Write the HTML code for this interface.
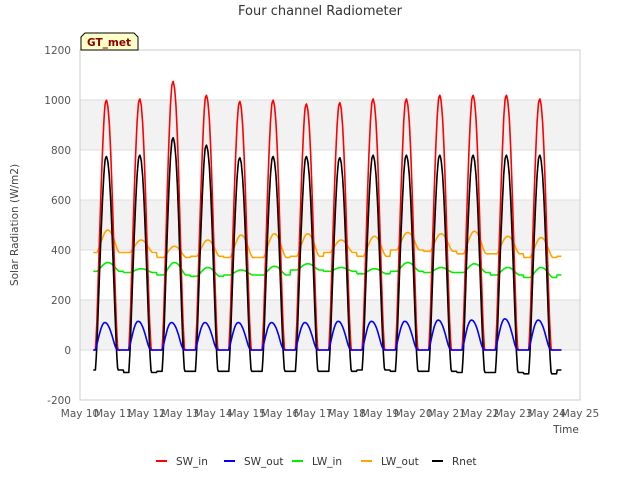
<!DOCTYPE html>
<html><head><meta charset="utf-8"><style>
body{margin:0;background:#fff;}
svg{display:block;font-family:"DejaVu Sans","Liberation Sans",sans-serif;}
</style></head><body>
<svg id="chart" width="640" height="480" viewBox="0 0 640 480">
<rect x="0" y="0" width="640" height="480" fill="#fff"/>
<g id="bands"></g>
<g id="grid"></g>
<rect x="80" y="50" width="500" height="350" fill="none" stroke="#ccc"/>
<g id="series" clip-path="url(#clip)"></g>
<defs><clipPath id="clip"><rect x="80" y="40" width="500" height="362"/></clipPath></defs>
<g id="axes"></g>
<text x="320" y="15" text-anchor="middle" font-size="13" fill="#333">Four channel Radiometer</text>
<text x="18" y="225" text-anchor="middle" font-size="10.5" fill="#444" transform="rotate(-90 18 225)">Solar Radiation (W/m2)</text>
<text x="566" y="433" text-anchor="middle" font-size="10.5" fill="#444">Time</text>
<g>
<path d="M81,50 L81,37 L85,33 L134,33 L138,37 L138,50 Z" fill="#ffffc8" stroke="#000" stroke-width="1"/>
<text x="109" y="46" text-anchor="middle" font-size="10.5" font-weight="bold" fill="#8b0000">GT_met</text>
</g>
<g id="legend"></g>
</svg>
<script>
const yTicks=[-200,0,200,400,600,800,1000,1200];
const xTickLabels=["May 10","May 11","May 12","May 13","May 14","May 15","May 16","May 17","May 18","May 19","May 20","May 21","May 22","May 23","May 24","May 25"];
const days=[10,11,12,13,14,15,16,17,18,19,20,21,22,23,24];
const swInPeak=[1000,1005,1075,1020,995,1000,985,990,1005,1005,1020,1020,1020,1005,0];
const swOutPeak=[110,115,110,110,110,110,110,115,115,115,120,120,125,120,0];
const rnetPeak=[775,780,850,820,770,775,775,770,780,780,780,780,780,780,0];
const rnetNight=[-80,-90,-85,-85,-85,-85,-85,-85,-80,-85,-85,-90,-90,-95,-80];
const lwInDay=[350,325,350,330,320,335,345,330,325,350,330,345,330,330,300];
const lwInNight=[315,310,300,295,300,300,320,315,305,315,310,310,300,290,300];
const lwOutPeak=[480,440,415,440,460,465,465,440,455,470,465,475,455,450,380];
const lwOutNight=[390,390,370,375,370,370,375,390,375,400,395,385,385,370,375];
const dayProfile=[0,0.12,0.3,0.48,0.65,0.8,0.92,0.99,1,0.97,0.9,0.78,0.62,0.44,0.26,0.1,0];
const swOutProfile=[0,0.2,0.42,0.62,0.8,0.92,0.99,1,0.97,0.9,0.8,0.66,0.5,0.32,0.15,0.04,0];

const X0=80,X1=580,Y0=400,Y1=50;
const xs=d=>X0+(d-10)/15*(X1-X0);
const ys=v=>Y0-(v+200)/1400*(Y0-Y1);
const NS='http://www.w3.org/2000/svg';
function mk(tag,attrs,parent){const e=document.createElementNS(NS,tag);for(const k in attrs)e.setAttribute(k,attrs[k]);parent.appendChild(e);return e;}

const bands=document.getElementById('bands');
[[0,200],[400,600],[800,1000]].forEach((b,i)=>{
  const r=mk('rect',{x:X0,y:ys(b[1]),width:X1-X0,height:ys(b[0])-ys(b[1]),fill:'#f2f2f2'},bands);
  
  
});
const grid=document.getElementById('grid'),axes=document.getElementById('axes');
yTicks.forEach(v=>{
  const l=mk('line',{x1:X0,x2:X1,y1:ys(v),y2:ys(v),stroke:'#ddd'},grid);
  
  
  const t=mk('text',{x:X0-9,y:ys(v)+4,'text-anchor':'end','font-size':10.5,fill:'#555'},axes);
  t.textContent=v;
  
  
});
xTickLabels.forEach((s,i)=>{
  const t=mk('text',{x:xs(10+i),y:417,'text-anchor':'middle','font-size':10.5,fill:'#555'},axes);
  t.textContent=s;
  
  
});

function prof(arr,off){
  if(off<0||off>16)return 0;
  const i=Math.floor(off),f=off-i;return arr[i]*(1-f)+(arr[Math.min(i+1,16)]||0)*f;
}
const tStart=10.4,tEnd=24.45,step=1/48;
const pts={sw_in:[],sw_out:[],lw_in:[],lw_out:[],rnet:[]};
for(let t=tStart;t<=tEnd+1e-9;t+=step){
  const k=Math.max(0,Math.min(14,Math.round(t-0.8)-10));
  const peakT=days[k]+0.8;
  const off=(t-peakT)*24+8;
  const p=prof(dayProfile,off), q=prof(swOutProfile,off);
  const sw=swInPeak[k]*p, so=swOutPeak[k]*q;
  const rn=p>0?rnetNight[k]+(rnetPeak[k]-rnetNight[k])*p:rnetNight[k];
  const li=lwInNight[k]+(lwInDay[k]-lwInNight[k])*prof(dayProfile,off-1);
  const lo=lwOutNight[k]+(lwOutPeak[k]-lwOutNight[k])*prof(dayProfile,off-1);
  const x=xs(t);
  pts.sw_in.push([x,ys(sw)]);pts.sw_out.push([x,ys(so)]);
  pts.lw_in.push([x,ys(li)]);pts.lw_out.push([x,ys(lo)]);pts.rnet.push([x,ys(rn)]);
}
const series=[['lw_out','#ffa500','LW_out'],['lw_in','#00ee00','LW_in'],['sw_in','#ff0000','SW_in'],['rnet','#000000','Rnet'],['sw_out','#0000ff','SW_out']];
const sg=document.getElementById('series');
series.forEach(s=>{
  const p=mk('polyline',{points:pts[s[0]].map(a=>a[0].toFixed(1)+','+a[1].toFixed(1)).join(' '),fill:'none',stroke:s[1],'stroke-width':1.6,'stroke-linejoin':'round'},sg);
  
  
});
const legend=document.getElementById('legend');
const leg=[['SW_in','#ff0000',156],['SW_out','#0000ff',224],['LW_in','#00ee00',292],['LW_out','#ffa500',361],['Rnet','#000000',432]];
leg.forEach(l=>{
  const g=mk('g',{},legend);
  
  
  mk('line',{x1:l[2],x2:l[2]+11,y1:461,y2:461,stroke:l[1],'stroke-width':2},g);
  const t=mk('text',{x:l[2]+20,y:465,'font-size':10.5,fill:'#333'},g);
  t.textContent=l[0];
});
</script>
</body></html>
